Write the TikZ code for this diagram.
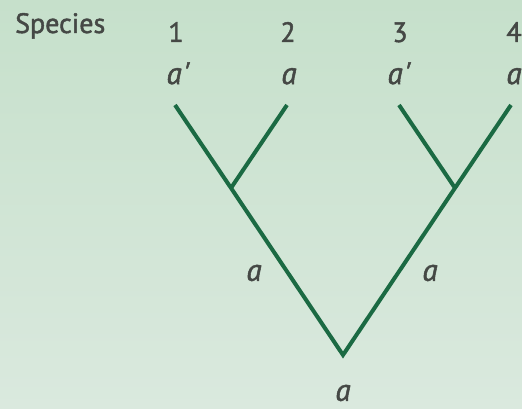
\documentclass[tikz,border=0pt]{standalone}
\usepackage{fontspec}
\setmainfont{PT Sans}
\newfontfamily\medfont{PT Sans}[FakeBold=1.6]
\usepackage{tikz}
\definecolor{treeGreen}{HTML}{1B6A43}
\definecolor{labelGray}{HTML}{454845}
\definecolor{bgTop}{HTML}{C6E0CB}
\definecolor{bgBottom}{HTML}{DAE9DE}

\begin{document}
\begin{tikzpicture}[x=1pt,y=-1pt, every node/.style={text=labelGray,inner sep=0pt}]
  \useasboundingbox (0,0) rectangle (522,409);
  \fill[top color=bgTop,bottom color=bgBottom] (0,0) rectangle (522,409);

  \node[anchor=base west,font=\medfont\fontsize{28}{30}\selectfont] (sp) at (15,33) {Species};
  \node[anchor=base,font=\medfont\fontsize{28}{30}\selectfont] (n1) at (176,42) {1};
  \node[anchor=base,font=\medfont\fontsize{28}{30}\selectfont] (n2) at (288,42) {2};
  \node[anchor=base,font=\medfont\fontsize{28}{30}\selectfont] (n3) at (400,42) {3};
  \node[anchor=base,font=\medfont\fontsize{28}{30}\selectfont] (n4) at (514,42) {4};

  \node[anchor=base,font=\medfont\fontsize{31}{34}\itshape] (c1) at (178,84) {a\kern1.5pt\textquotesingle};
  \node[anchor=base,font=\medfont\fontsize{31}{34}\itshape] (c2) at (289,84) {a};
  \node[anchor=base,font=\medfont\fontsize{31}{34}\itshape] (c3) at (399,84) {a\kern1.5pt\textquotesingle};
  \node[anchor=base,font=\medfont\fontsize{31}{34}\itshape] (c4) at (514,84) {a};

  \coordinate (l1) at (175,105);
  \coordinate (l2) at (287,105);
  \coordinate (l3) at (399,105);
  \coordinate (l4) at (511,105);
  \coordinate (x12) at (231,188);
  \coordinate (x34) at (455,188);
  \coordinate (root) at (343,355);

  \draw[treeGreen,line width=4pt] (l1) -- (x12) -- (root) -- (x34) -- (l4);
  \draw[treeGreen,line width=4pt] (l2) -- (x12);
  \draw[treeGreen,line width=4pt] (l3) -- (x34);

  \node[font=\medfont\fontsize{31}{34}\itshape] (ia) at (254,273) {a};
  \node[font=\medfont\fontsize{31}{34}\itshape] (ib) at (430,273) {a};
  \node[font=\medfont\fontsize{31}{34}\itshape] (ra) at (343,393) {a};
\end{tikzpicture}
\end{document}
